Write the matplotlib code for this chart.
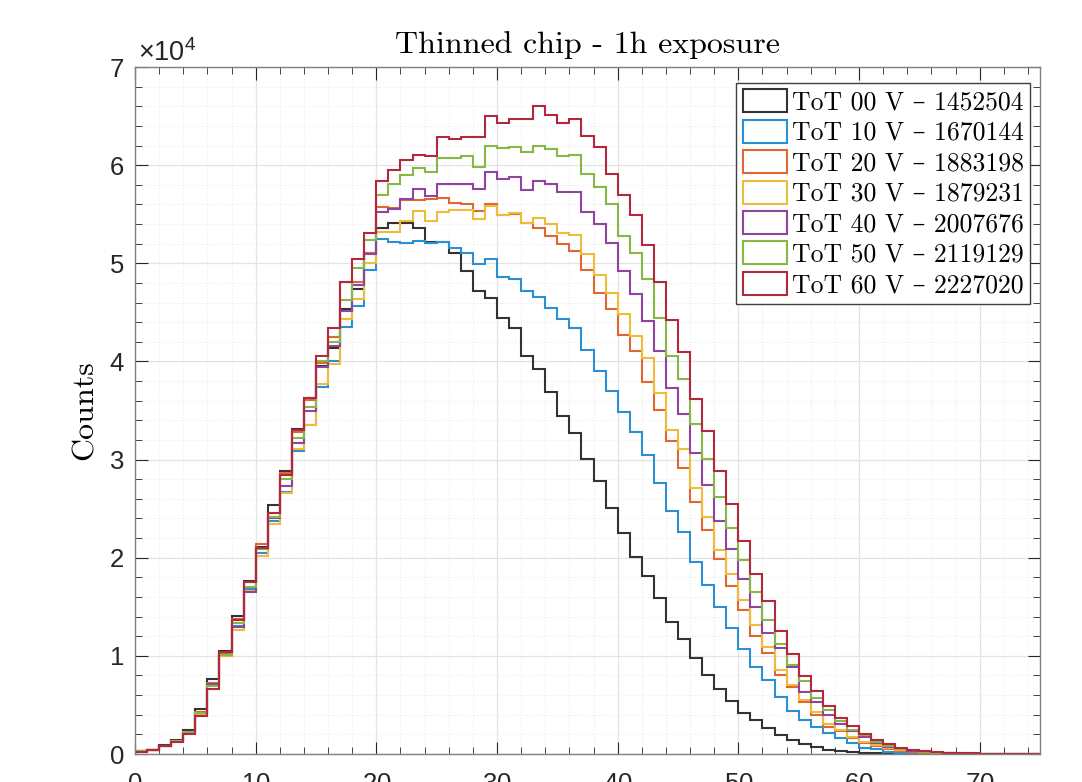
import matplotlib
matplotlib.use("Agg")
import matplotlib.pyplot as plt
import numpy as np
from matplotlib.patches import Patch
from matplotlib.ticker import MultipleLocator, FuncFormatter

# --- histogram data (ToT bins of width 1, counts per bin) ---
edges = np.arange(0, 76)

tot_00 = [
    350, 450, 900, 1400, 2450, 4550, 7600, 10500, 14100, 17600,
    21100, 25400, 28850, 33100, 36300, 39500, 41400, 45300, 47400, 51100,
    53600, 54100, 54100, 53600, 52200, 52200, 51000, 49200, 47200, 46500,
    44400, 43400, 40600, 39200, 36900, 34400, 32700, 30100, 27800, 25100,
    22500, 20100, 18100, 15900, 13500, 11700, 9800, 8100, 6600, 5400,
    4200, 3500, 2600, 1900, 1400, 1000, 680, 420, 300, 170,
    110, 70, 40, 25, 15, 10, 5, 0, 0, 0,
    0, 0, 0, 0, 0]
tot_10 = [
    300, 400, 850, 1300, 2200, 4200, 7100, 10050, 13000, 16800,
    20500, 23750, 26700, 30900, 33500, 37400, 40000, 43500, 45700, 49300,
    52500, 52200, 52100, 52300, 52100, 52200, 51600, 51000, 49900, 50400,
    48600, 48400, 47200, 46600, 45400, 44300, 43400, 41200, 39000, 37000,
    34800, 32800, 30500, 27600, 24800, 22600, 19600, 17200, 15000, 12800,
    10700, 8900, 7500, 5800, 4400, 3500, 2800, 2100, 1600, 1100,
    650, 480, 250, 150, 100, 60, 40, 20, 10, 0,
    0, 0, 0, 0, 0]
tot_20 = [
    300, 400, 850, 1350, 2250, 4300, 7270, 10200, 13760, 17570,
    21400, 24600, 28600, 32860, 36090, 39800, 42500, 48100, 48100, 51000,
    55700, 55600, 56400, 56400, 56600, 56700, 56100, 56000, 55300, 56000,
    54900, 55000, 54100, 53600, 52800, 52000, 51300, 49300, 47000, 45300,
    42700, 41100, 37900, 35100, 31900, 29100, 25700, 22800, 19900, 17100,
    14700, 12000, 10300, 8100, 6800, 5300, 4000, 2800, 2300, 1600,
    1150, 800, 500, 350, 230, 150, 100, 60, 40, 20,
    10, 0, 0, 0, 0]
tot_30 = [
    300, 400, 800, 1250, 2150, 4100, 7000, 10000, 12640, 16600,
    20200, 23400, 26570, 31060, 33540, 37690, 39720, 44310, 46350, 50020,
    53200, 53200, 54300, 55300, 54300, 55200, 55400, 55400, 54500, 55800,
    54900, 55100, 54100, 54600, 54000, 53100, 52900, 50900, 48800, 47000,
    44800, 42600, 40300, 36800, 33000, 31100, 27100, 24200, 20800, 18300,
    15700, 13100, 10900, 8600, 7000, 5500, 4300, 3100, 2400, 1750,
    1250, 900, 580, 400, 260, 170, 110, 70, 40, 20,
    10, 0, 0, 0, 0]
tot_40 = [
    300, 400, 850, 1300, 2200, 4200, 7100, 10050, 12910, 16550,
    20900, 24020, 27350, 31700, 35000, 39480, 41620, 45090, 47810, 50930,
    55220, 55520, 56540, 57560, 56810, 58100, 58100, 58100, 57600, 59300,
    58600, 58800, 57500, 58400, 58100, 57300, 57300, 55200, 54000, 52100,
    49200, 46900, 44100, 41100, 37300, 34600, 30700, 27400, 23700, 20900,
    17800, 15000, 12300, 10800, 8900, 6300, 5300, 4000, 3100, 2300,
    1700, 1150, 750, 500, 330, 220, 140, 90, 50, 30,
    15, 5, 0, 0, 0]
tot_50 = [
    300, 400, 850, 1300, 2200, 4200, 6930, 10050, 13320, 17060,
    20900, 24190, 28030, 32200, 35400, 40000, 41930, 46280, 49570, 52400,
    56920, 58100, 59020, 59700, 59300, 60700, 60700, 60900, 59800, 62000,
    61700, 61900, 61300, 62000, 61600, 60900, 61000, 59100, 57800, 56000,
    52800, 51100, 48400, 44400, 40600, 38200, 33600, 30100, 26200, 23000,
    19800, 16500, 13700, 11200, 9100, 7400, 5700, 4500, 3400, 2400,
    1900, 1250, 800, 550, 360, 240, 150, 100, 60, 30,
    15, 5, 0, 0, 0]
tot_60 = [
    250, 400, 800, 1250, 2040, 3870, 6660, 10360, 13660, 17570,
    20970, 24600, 28440, 33030, 36320, 40570, 43390, 48110, 50460, 53070,
    58340, 59530, 60550, 61060, 60890, 62900, 62700, 62900, 62900, 65000,
    64300, 64700, 64700, 66000, 65100, 64300, 64700, 63000, 61800, 59100,
    57000, 54900, 51900, 48100, 44200, 41000, 36200, 32900, 28800, 25500,
    21700, 18300, 15600, 12500, 10200, 7900, 6400, 4900, 3700, 2900,
    2000, 1400, 1000, 650, 450, 300, 200, 130, 90, 60,
    35, 20, 10, 5, 3]

series = [tot_00, tot_10, tot_20, tot_30, tot_40, tot_50, tot_60]
labels = [
    "ToT 00 V \u2013 1452504",
    "ToT 10 V \u2013 1670144",
    "ToT 20 V \u2013 1883198",
    "ToT 30 V \u2013 1879231",
    "ToT 40 V \u2013 2007676",
    "ToT 50 V \u2013 2119129",
    "ToT 60 V \u2013 2227020",
]
colors = ["#333333", "#2b8fd3", "#e0672f", "#f0ba3a",
          "#8e44a0", "#86b843", "#b3283f"]

serif = ["cmr10", "DejaVu Serif"]
plt.rcParams["font.family"] = ["Liberation Sans", "DejaVu Sans"]
plt.rcParams["mathtext.fontset"] = "custom"
plt.rcParams["mathtext.rm"] = "Liberation Sans"
plt.rcParams["axes.formatter.use_mathtext"] = True

fig = plt.figure(figsize=(10.82, 7.82), dpi=100)
ax = fig.add_axes([0.1248, 0.0358, 0.8364, 0.8785])

for vals, c in zip(series, colors):
    ax.stairs(vals, edges, color=c, lw=1.5, fill=False, baseline=0)

ax.set_xlim(0, 75)
ax.set_ylim(0, 70000)

ax.xaxis.set_major_locator(MultipleLocator(10))
ax.xaxis.set_minor_locator(MultipleLocator(2))
ax.yaxis.set_major_locator(MultipleLocator(10000))
ax.yaxis.set_minor_locator(MultipleLocator(2000))
ax.yaxis.set_major_formatter(FuncFormatter(lambda v, p: f"{v / 1e4:g}"))

ax.tick_params(which="both", direction="in", top=True, right=True,
               colors="#262626", labelsize=18.5)
ax.tick_params(which="major", length=9, width=0.8)
ax.tick_params(which="minor", length=5, width=0.6)
ax.tick_params(axis="x", pad=13)
ax.tick_params(axis="y", pad=8)
for s in ax.spines.values():
    s.set_color("#808080")
    s.set_linewidth(1.0)

ax.set_axisbelow(True)
ax.grid(which="major", color="#e3e3e3", lw=0.9)
ax.grid(which="minor", color="#ececec", lw=0.8, ls=":")

ax.text(0.003, 1.0, r"$\times10^{4}$", transform=ax.transAxes,
        ha="left", va="bottom", fontsize=19.5, color="#262626")

ax.set_title("Thinned chip - 1h exposure", family=serif, fontsize=23, pad=10)
ax.set_ylabel("Counts", family=serif, fontsize=23, labelpad=8)

handles = [Patch(facecolor="none", edgecolor=c, lw=1.5) for c in colors]
leg = ax.legend(handles, labels, loc="upper right",
                bbox_to_anchor=(0.989, 0.977), borderaxespad=0,
                prop={"family": serif, "size": 18.5},
                handlelength=1.7, handleheight=1.0, handletextpad=0.2,
                labelspacing=0.2, borderpad=0.25, fancybox=False,
                framealpha=1, edgecolor="#404040")
leg.get_frame().set_linewidth(1.0)

fig.savefig("out.png", dpi=100)
